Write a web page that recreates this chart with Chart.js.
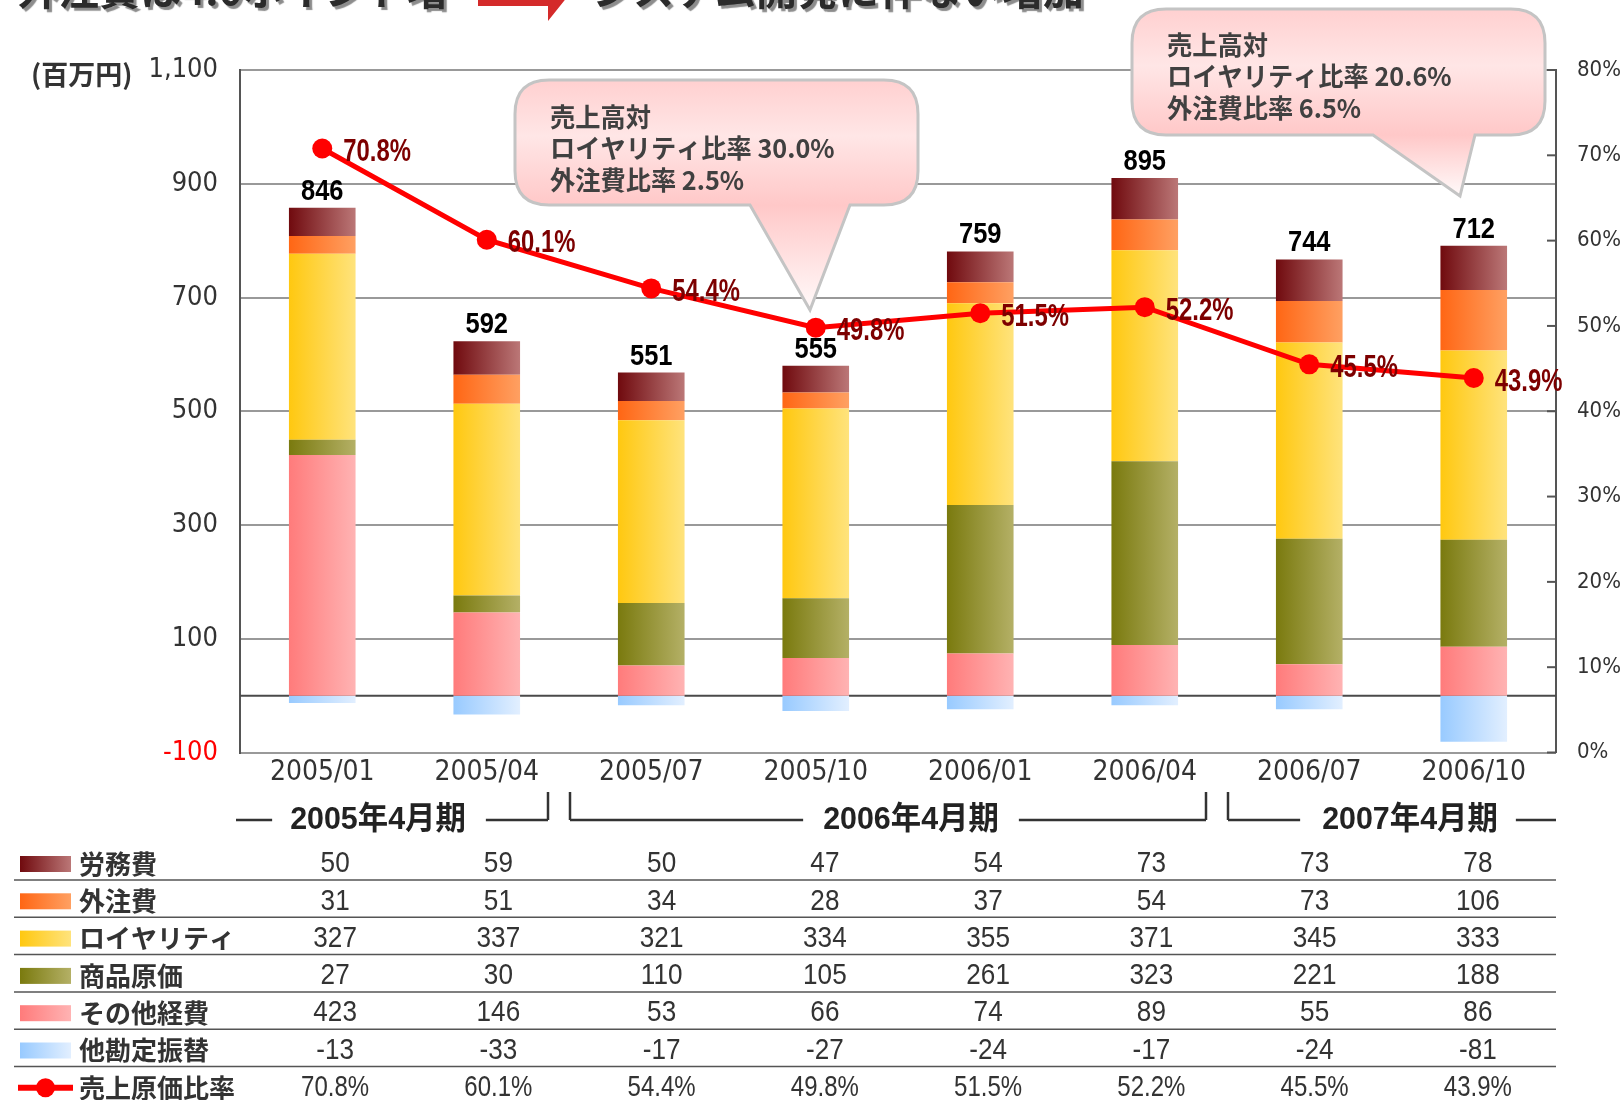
<!DOCTYPE html>
<html><head><meta charset="utf-8">
<script src="https://cdn.jsdelivr.net/npm/chart.js@4.4.0/dist/chart.umd.min.js"></script>
<style>
html,body{margin:0;padding:0;background:#fff;}
canvas{display:block;}
</style></head><body>
<canvas id="c" width="1624" height="1100"></canvas>
<script>
// ---------- data ----------
const categories = ['2005/01','2005/04','2005/07','2005/10','2006/01','2006/04','2006/07','2006/10'];
const labor       = [50, 59, 50, 47, 54, 73, 73, 78];          // 労務費
const outsourcing = [31, 51, 34, 28, 37, 54, 73, 106];         // 外注費
const royalty     = [327, 337, 321, 334, 355, 371, 345, 333];  // ロイヤリティ
const goodsCost   = [27, 30, 110, 105, 261, 323, 221, 188];    // 商品原価
const otherExp    = [423, 146, 53, 66, 74, 89, 55, 86];        // その他経費
const transfer    = [-13, -33, -17, -27, -24, -17, -24, -81];  // 他勘定振替
const costRatio   = [70.8, 60.1, 54.4, 49.8, 51.5, 52.2, 45.5, 43.9]; // 売上原価比率 (%)
const totals      = [846, 592, 551, 555, 759, 895, 744, 712];
const yMin = -100, yMax = 1100, yStep = 200;
const y2Min = 0, y2Max = 80, y2Step = 10;
const fiscalPeriods = ['2005年4月期', '2006年4月期', '2007年4月期'];
const titleLeft = '外注費は4.0ポイント増';
const titleRight = 'システム開発に伴ない増加';
const unitLabel = '(百万円)';
const callout1 = ['売上高対', 'ロイヤリティ比率 30.0%', '外注費比率 2.5%'];
const callout2 = ['売上高対', 'ロイヤリティ比率 20.6%', '外注費比率 6.5%'];

// ---------- styles ----------
const COND = "'DejaVu Sans Condensed', 'Liberation Sans', sans-serif";
const LAT = "'Liberation Sans', 'Noto Sans CJK JP', sans-serif";
const JP = "'Noto Sans CJK JP', 'Noto Sans CJK SC', sans-serif";
const colors = {
  '労務費':     ['#700a0e', '#bb7777'],
  '外注費':     ['#ff6614', '#ffa062'],
  'ロイヤリティ': ['#ffc810', '#ffe37c'],
  '商品原価':   ['#7a7a0e', '#b4b066'],
  'その他経費': ['#ff7b7b', '#ffb3b3'],
  '他勘定振替': ['#98caff', '#e2efff']
};

function barGrad(name) {
  const [c0, c1] = colors[name];
  return (ctx) => {
    const chart = ctx.chart, xs = chart.scales.x;
    if (!xs || ctx.type !== 'data' || !chart.chartArea) return c0;
    const cx = xs.getPixelForValue(ctx.dataIndex);
    const w = (xs.width / categories.length) * 0.5 * 0.81;
    const g = chart.ctx.createLinearGradient(cx - w / 2, 0, cx + w / 2, 0);
    g.addColorStop(0, c0); g.addColorStop(1, c1);
    return g;
  };
}
function barDs(name, data) {
  return { type: 'bar', label: name, data, yAxisID: 'y', order: 1,
    backgroundColor: barGrad(name), borderWidth: 0,
    barPercentage: 0.81, categoryPercentage: 0.5, stack: 's' };
}

const tableRows = [
  { name: '労務費', values: labor },
  { name: '外注費', values: outsourcing },
  { name: 'ロイヤリティ', values: royalty },
  { name: '商品原価', values: goodsCost },
  { name: 'その他経費', values: otherExp },
  { name: '他勘定振替', values: transfer },
  { name: '売上原価比率', values: costRatio, pct: true }
];

// horizontally condensed text
function sText(ctx, text, x, y, sx, align) {
  ctx.save();
  ctx.translate(x, y);
  ctx.scale(sx, 1);
  ctx.textAlign = align || 'left';
  ctx.fillText(text, 0, 0);
  ctx.restore();
}

function bubblePath(ctx, x0, y0, x1, y1, r, tl, tr, tx, ty) {
  ctx.beginPath();
  ctx.moveTo(x0 + r, y0);
  ctx.lineTo(x1 - r, y0);
  ctx.quadraticCurveTo(x1, y0, x1, y0 + r);
  ctx.lineTo(x1, y1 - r);
  ctx.quadraticCurveTo(x1, y1, x1 - r, y1);
  ctx.lineTo(tr, y1);
  ctx.lineTo(tx, ty);
  ctx.lineTo(tl, y1);
  ctx.lineTo(x0 + r, y1);
  ctx.quadraticCurveTo(x0, y1, x0, y1 - r);
  ctx.lineTo(x0, y0 + r);
  ctx.quadraticCurveTo(x0, y0, x0 + r, y0);
  ctx.closePath();
}
function drawBubble(ctx, b, lines) {
  const g = ctx.createLinearGradient(0, b.y0, 0, b.ty);
  const mid = (b.y1 - b.y0) / (b.ty - b.y0);
  g.addColorStop(0, '#ffd0d0');
  g.addColorStop(mid * 0.45, '#ffe6e6');
  g.addColorStop(mid, '#ffc8c8');
  g.addColorStop(1, '#fffafa');
  bubblePath(ctx, b.x0, b.y0, b.x1, b.y1, 34, b.tl, b.tr, b.tx, b.ty);
  ctx.fillStyle = g; ctx.fill();
  ctx.strokeStyle = '#c4c4c4'; ctx.lineWidth = 3; ctx.stroke();
  ctx.fillStyle = '#404040';
  ctx.font = `bold 26px ${JP}`;
  ctx.textBaseline = 'middle';
  lines.forEach((t, i) => sText(ctx, t, b.tx0, b.ty0 + i * 31.5, 0.97, 'left'));
}

const overlay = {
  id: 'overlay',
  beforeDatasetsDraw(chart) {
    const { ctx, chartArea: a, scales: { y, y2 } } = chart;
    ctx.save();
    const z = y.getPixelForValue(0);
    ctx.strokeStyle = '#4a4a4a'; ctx.lineWidth = 2;
    ctx.beginPath(); ctx.moveTo(a.left, z); ctx.lineTo(a.right, z); ctx.stroke();
    ctx.strokeStyle = '#555'; ctx.lineWidth = 2;
    y2.ticks.forEach(t => {
      const py = y2.getPixelForValue(t.value);
      ctx.beginPath(); ctx.moveTo(a.right - 9, py); ctx.lineTo(a.right, py); ctx.stroke();
    });
    ctx.restore();
  },
  afterDatasetsDraw(chart) {
    const { ctx } = chart;
    ctx.save();
    // totals above bars
    const topIdx = chart.data.datasets.findIndex(d => d.label === '労務費');
    const meta = chart.getDatasetMeta(topIdx);
    ctx.font = `bold 30px ${LAT}`;
    ctx.fillStyle = '#000'; ctx.textBaseline = 'alphabetic';
    meta.data.forEach((el, i) => sText(ctx, String(totals[i]), el.x, el.y - 8, 0.85, 'center'));
    // ratio labels
    const lineIdx = chart.data.datasets.findIndex(d => d.type === 'line');
    const lm = chart.getDatasetMeta(lineIdx);
    ctx.font = `bold 31px ${LAT}`;
    ctx.fillStyle = '#7d0000'; ctx.textBaseline = 'middle';
    lm.data.forEach((el, i) => sText(ctx, costRatio[i].toFixed(1) + '%', el.x + 21, el.y + 4, 0.77, 'left'));
    // callouts
    drawBubble(ctx, { x0: 515, y0: 80, x1: 918, y1: 205, tl: 750, tr: 850, tx: 810, ty: 310, tx0: 550, ty0: 117 }, callout1);
    drawBubble(ctx, { x0: 1132, y0: 9, x1: 1545, y1: 135, tl: 1373, tr: 1475, tx: 1460, ty: 196, tx0: 1167, ty0: 45 }, callout2);
    ctx.restore();
  },
  afterDraw(chart) {
    const { ctx, scales: { x } } = chart;
    ctx.save();
    // title (cut off at top)
    ctx.font = `bold 41px ${JP}`;
    ctx.textAlign = 'left'; ctx.textBaseline = 'alphabetic';
    ctx.shadowColor = 'rgba(0,0,0,0.45)'; ctx.shadowOffsetX = 3; ctx.shadowOffsetY = 3; ctx.shadowBlur = 1;
    ctx.fillStyle = '#2b2b2b';
    ctx.fillText(titleLeft, 17, 5);
    ctx.fillText(titleRight, 592, 5);
    ctx.shadowColor = 'transparent';
    ctx.fillStyle = '#d42a2a';
    ctx.beginPath();
    ctx.moveTo(478, -34); ctx.lineTo(548, -34); ctx.lineTo(548, -49); ctx.lineTo(576, -14);
    ctx.lineTo(548, 21); ctx.lineTo(548, 6); ctx.lineTo(478, 6); ctx.closePath(); ctx.fill();

    // unit label
    ctx.fillStyle = '#333'; ctx.font = `bold 27px ${JP}`; ctx.textBaseline = 'middle';
    sText(ctx, unitLabel, 31, 75, 1.0, 'left');

    // fiscal period brackets
    const cw = x.width / categories.length;
    const b = i => x.left + i * cw;
    ctx.strokeStyle = '#333'; ctx.lineWidth = 2.5;
    const ly = 820, vt = 792;
    const seg = (x1, y1, x2, y2) => { ctx.beginPath(); ctx.moveTo(x1, y1); ctx.lineTo(x2, y2); ctx.stroke(); };
    const psx = 0.95;
    ctx.font = `bold 32px ${LAT}`; ctx.fillStyle = '#222'; ctx.textBaseline = 'middle';
    const tw = t => ctx.measureText(t).width * psx;
    const c1 = 378, c2 = 911, c3 = 1410;
    seg(x.left - 4, ly, c1 - tw(fiscalPeriods[0]) / 2 - 18, ly);
    seg(c1 + tw(fiscalPeriods[0]) / 2 + 20, ly, b(2) - 21, ly); seg(b(2) - 21, ly, b(2) - 21, vt);
    sText(ctx, fiscalPeriods[0], c1, ly, psx, 'center');
    seg(b(2) + 1, vt, b(2) + 1, ly); seg(b(2) + 1, ly, c2 - tw(fiscalPeriods[1]) / 2 - 20, ly);
    seg(c2 + tw(fiscalPeriods[1]) / 2 + 20, ly, b(6) - 21, ly); seg(b(6) - 21, ly, b(6) - 21, vt);
    sText(ctx, fiscalPeriods[1], c2, ly, psx, 'center');
    seg(b(6) + 1, vt, b(6) + 1, ly); seg(b(6) + 1, ly, c3 - tw(fiscalPeriods[2]) / 2 - 22, ly);
    seg(c3 + tw(fiscalPeriods[2]) / 2 + 18, ly, x.right, ly);
    sText(ctx, fiscalPeriods[2], c3, ly, psx, 'center');

    // data table
    const rowY0 = 863, pitch = 37.3;
    const colX = i => 253.5 + 163.25 * (i + 0.5);
    tableRows.forEach((row, r) => {
      const cy = rowY0 + r * pitch;
      if (row.pct) {
        ctx.strokeStyle = '#ff0000'; ctx.lineWidth = 6;
        seg(18, cy + 1, 73, cy + 1);
        ctx.fillStyle = '#ff0000';
        ctx.beginPath(); ctx.arc(45.5, cy + 1, 9.5, 0, Math.PI * 2); ctx.fill();
      } else {
        const [c0, c1c] = colors[row.name];
        const g = ctx.createLinearGradient(20, 0, 71, 0);
        g.addColorStop(0, c0); g.addColorStop(1, c1c);
        ctx.fillStyle = g; ctx.fillRect(20, cy - 7, 51, 16);
      }
      ctx.fillStyle = '#333'; ctx.font = `bold 26px ${JP}`;
      ctx.textAlign = 'left'; ctx.textBaseline = 'middle';
      ctx.fillText(row.name, 79, cy + 1);
      ctx.font = `30px ${LAT}`;
      row.values.forEach((v, i) => sText(ctx, row.pct ? v.toFixed(1) + '%' : String(v), colX(i), cy + 1, row.pct ? 0.8 : 0.87, 'center'));
      if (r < tableRows.length - 1) {
        ctx.strokeStyle = '#555'; ctx.lineWidth = 1.5;
        seg(14, cy + 17, x.right, cy + 17);
      }
    });
    ctx.restore();
  }
};

function build() {
  new Chart(document.getElementById('c'), {
    type: 'bar',
    data: {
      labels: categories,
      datasets: [
        { type: 'line', label: '売上原価比率', data: costRatio, yAxisID: 'y2', order: 0,
          borderColor: '#ff0000', borderWidth: 5, tension: 0,
          pointRadius: 10, pointHoverRadius: 10, pointBackgroundColor: '#ff0000', pointBorderWidth: 0 },
        barDs('その他経費', otherExp),
        barDs('商品原価', goodsCost),
        barDs('ロイヤリティ', royalty),
        barDs('外注費', outsourcing),
        barDs('労務費', labor),
        barDs('他勘定振替', transfer)
      ]
    },
    options: {
      responsive: false, devicePixelRatio: 1, animation: false,
      layout: { padding: { top: 70, left: 0, right: 0, bottom: 0 } },
      plugins: { legend: { display: false }, tooltip: { enabled: false }, title: { display: false } },
      scales: {
        x: {
          stacked: true, offset: true,
          grid: { display: false, drawTicks: false }, border: { display: false },
          ticks: { font: { family: COND, size: 28 }, color: '#333', padding: 3, maxRotation: 0, autoSkip: false },
          afterFit(s) { s.height = 347.5; }
        },
        y: {
          stacked: true, position: 'left', min: yMin, max: yMax,
          ticks: { stepSize: yStep, font: { family: COND, size: 27 }, padding: 22,
            color: c => (c.tick && c.tick.value < 0) ? '#ff0000' : '#333',
            callback: v => v.toLocaleString('en-US') },
          grid: { color: '#999', lineWidth: 2, drawTicks: false },
          border: { display: true, color: '#555', width: 2 },
          afterFit(s) { s.width = 240; }
        },
        y2: {
          position: 'right', min: y2Min, max: y2Max,
          ticks: { stepSize: y2Step, font: { family: COND, size: 22 }, color: '#333', padding: 21,
            callback: v => v + '%' },
          grid: { display: false, drawTicks: false },
          border: { display: true, color: '#555', width: 2 },
          afterFit(s) { s.width = 68; }
        }
      }
    },
    plugins: [overlay]
  });
}
Promise.all([
  document.fonts.load(`26px 'DejaVu Sans Condensed'`),
  document.fonts.load(`bold 28px 'Liberation Sans'`),
  document.fonts.load(`30px 'Liberation Sans'`),
  document.fonts.load(`bold 26px 'Noto Sans CJK JP'`, '売上高対'),
  document.fonts.load(`26px 'Noto Sans CJK JP'`, '売上高対')
]).then(build, build);
</script>
</body></html>
